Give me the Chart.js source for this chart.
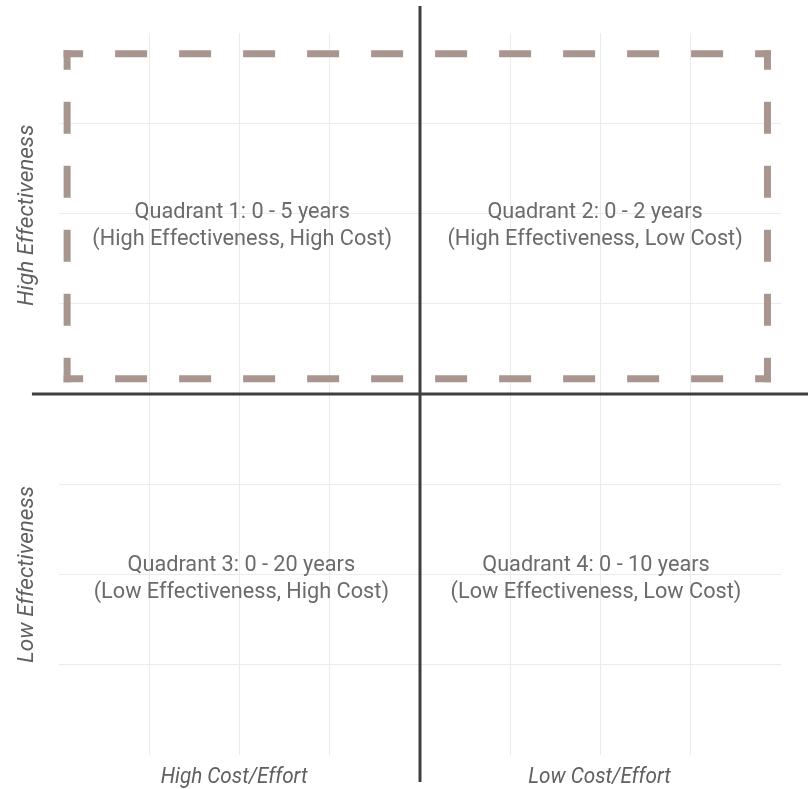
<!DOCTYPE html>
<html>
<head>
<meta charset="utf-8">
<script src="https://cdn.jsdelivr.net/npm/chart.js@4/dist/chart.umd.min.js"></script>
<style>
  html, body { margin: 0; padding: 0; background: #fff; }
  #wrap { width: 808px; height: 789px; position: relative; }
</style>
</head>
<body>
<div id="wrap"><canvas id="quadrantChart"></canvas></div>
<script>
// quadrant texts
var quadrantTitles = ['Quadrant 1: 0 - 5 years', 'Quadrant 2: 0 - 2 years', 'Quadrant 3: 0 - 20 years', 'Quadrant 4: 0 - 10 years'];
var quadrantNotes = ['(High Effectiveness, High Cost)', '(High Effectiveness, Low Cost)', '(Low Effectiveness, High Cost)', '(Low Effectiveness, Low Cost)'];
var quadrantX = [-1.97, 1.94, -1.98, 1.95];
var quadrantY = [1.884, 1.884, -2.028, -2.028];

// axis side labels
var xSideLabels = ['High Cost/Effort', 'Low Cost/Effort'];
var xSideValues = [-2.06, 1.99];
var ySideLabels = ['High Effectiveness', 'Low Effectiveness'];
var ySideValues = [1.98, -2.0];

// limits of the scales and of the highlighted area
var axisMin = -4;
var axisMax = 4;
var axisReach = 4.3;
var rectX = [-3.91, 3.85];
var rectY = [0.17, 3.77];

var rectColor = '#a8968e';
var axisColor = '#3f3f3f';
var gridColor = '#ebebeb';

function rectSide(a, b) {
    return {
        data: [a, b],
        showLine: true,
        borderColor: rectColor,
        borderWidth: 7,
        borderDash: [25, 39],
        borderDashOffset: 12.5,
        borderCapStyle: 'square',
        pointRadius: 0,
        clip: false
    };
}

function axisLine(a, b) {
    return {
        data: [a, b],
        showLine: true,
        borderColor: axisColor,
        borderWidth: 3,
        pointRadius: 0,
        clip: false
    };
}

var datasets = [
    rectSide({x: rectX[0], y: rectY[1]}, {x: rectX[1], y: rectY[1]}),
    rectSide({x: rectX[0], y: rectY[1]}, {x: rectX[0], y: rectY[0]}),
    rectSide({x: rectX[1], y: rectY[1]}, {x: rectX[1], y: rectY[0]}),
    rectSide({x: rectX[0], y: rectY[0]}, {x: rectX[1], y: rectY[0]}),
    axisLine({x: 0, y: axisReach}, {x: 0, y: -axisReach}),
    axisLine({x: -axisReach, y: 0}, {x: axisReach + 0.2, y: 0})
];

function gridFor(ctx) {
    var v = ctx.tick ? ctx.tick.value : 0;
    if (v === 0 || v <= axisMin || v >= axisMax) return 'rgba(0,0,0,0)';
    return gridColor;
}

// textes dessinés aux positions des échelles
var textPlugin = {
    id: 'quadrantText',
    afterDraw: function(chart) {
        var ctx = chart.ctx;
        var xs = chart.scales.x;
        var ys = chart.scales.y;
        ctx.save();
        ctx.fillStyle = '#6b6b6b';
        ctx.textAlign = 'center';
        ctx.textBaseline = 'alphabetic';
        ctx.font = '21.7px Roboto';
        for (var i = 0; i < quadrantTitles.length; i++) {
            var cx = xs.getPixelForValue(quadrantX[i]);
            var cy = ys.getPixelForValue(quadrantY[i]);
            ctx.fillText(quadrantTitles[i], cx, cy - 6);
            ctx.fillText(quadrantNotes[i], cx, cy + 21);
        }

        ctx.fillStyle = '#606060';
        ctx.font = 'italic 22px Roboto';
        for (var j = 0; j < xSideLabels.length; j++) {
            var px = xs.getPixelForValue(xSideValues[j]);
            ctx.save();
            ctx.translate(px, 783);
            ctx.scale(0.94, 1);
            ctx.fillText(xSideLabels[j], 0, 0);
            ctx.restore();
        }
        ctx.font = 'italic 22.5px Roboto';
        for (var k = 0; k < ySideLabels.length; k++) {
            var py = ys.getPixelForValue(ySideValues[k]);
            ctx.save();
            ctx.translate(33, py);
            ctx.rotate(-Math.PI / 2);
            ctx.fillText(ySideLabels[k], 0, 0);
            ctx.restore();
        }
        ctx.restore();
    }
};

var axisOptions = {
    type: 'linear',
    min: axisMin,
    max: axisMax,
    ticks: { display: false, stepSize: 1 },
    grid: { color: gridFor, lineWidth: 1, drawTicks: false },
    border: { display: false }
};

new Chart(document.getElementById('quadrantChart').getContext('2d'), {
    type: 'scatter',
    data: { datasets: datasets },
    options: {
        responsive: true,
        maintainAspectRatio: false,
        animation: false,
        layout: { padding: { left: 59, right: 27, top: 33, bottom: 34 } },
        plugins: { legend: { display: false }, tooltip: { enabled: false } },
        scales: { x: axisOptions, y: axisOptions }
    },
    plugins: [textPlugin]
});
</script>
</body>
</html>
